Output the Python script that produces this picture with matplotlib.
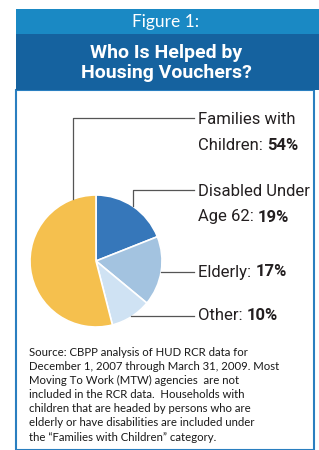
import numpy as np
import matplotlib.pyplot as plt
from matplotlib.patches import Rectangle

# pie data, clockwise from 12 o'clock
categories = ["Disabled Under\nAge 62: ", "Elderly: ", "Other: ", "Families with\nChildren: "]
shares = [19, 17, 10, 54]
colors = ["#3677ba", "#a3c3e0", "#cfe2f3", "#f5c04e"]

title_top = "Figure 1:"
title_main = "Who Is Helped by\nHousing Vouchers?"
source_lines = [
    "Source: CBPP analysis of HUD RCR data for",
    "December 1, 2007 through March 31, 2009. Most",
    "Moving To Work (MTW) agencies  are not",
    "included in the RCR data.  Households with",
    "children that are headed by persons who are",
    "elderly or have disabilities are included under",
    "the \u201cFamilies with Children\u201d category.",
]

W, H = 319, 450
fig = plt.figure(figsize=(W / 100, H / 100), dpi=100)
ax = fig.add_axes([0, 0, 1, 1])

narrow = ["Liberation Sans Narrow", "Roboto", "DejaVu Sans"]
plain = ["Lato", "Noto Sans", "DejaVu Sans"]

# frame: header bands + bordered white box
ax.add_patch(Rectangle((16, 0), 298, H - 90, facecolor="white", edgecolor="#2a7fc0", lw=1.5))
ax.add_patch(Rectangle((16, H - 90), 303, 56, facecolor="#15629f", lw=0))
ax.add_patch(Rectangle((16, H - 34), 303, 25, facecolor="#1a89c4", lw=0))

ax.text(166, H - 22, title_top, color="white", fontsize=12.5, ha="center", va="center", family=plain)
ax.text(166, H - 63, title_main, color="white", fontsize=14, fontweight="bold",
        ha="center", va="center", linespacing=1.2, family=narrow)

# pie
cx, cy, r = 96, H - 261, 66
wedges, _ = ax.pie(shares, colors=colors, startangle=90, counterclock=False,
                   center=(cx, cy), radius=r, frame=True,
                   wedgeprops=dict(edgecolor="white", linewidth=1.2))

# leader lines and labels
label_y = [204, 272, 316, 132]
line_y = [190, 272, 316, 118]
for i, w in enumerate(wedges):
    ang = np.deg2rad((w.theta1 + w.theta2) / 2)
    if i == 3:
        ang = np.deg2rad(110)
    px, py = cx + r * np.cos(ang), cy + r * np.sin(ang)
    ly = H - line_y[i]
    if abs(py - ly) > 3:
        ax.plot([px, px, 194], [py, ly, ly], color="#555555", lw=0.9)
    else:
        ax.plot([px, 194], [ly, ly], color="#555555", lw=0.9)
    name = categories[i]
    head, last = name.rsplit("\n", 1) if "\n" in name else ("", name)
    ty = H - label_y[i]
    if head:
        ax.text(198, ty + 13, head, fontsize=12, va="center", ha="left", family=narrow, color="#231f20")
        t = ax.text(198, ty - 13, last, fontsize=12, va="center", ha="left", family=narrow, color="#231f20")
    else:
        t = ax.text(198, ty, last, fontsize=12, va="center", ha="left", family=narrow, color="#231f20")
    ax.annotate(f"{shares[i]}%", xycoords=t, xy=(1, 0.5), va="center", ha="left",
                fontsize=12, fontweight="bold", family=narrow, color="#231f20")

# source note
for k, line in enumerate(source_lines):
    ax.text(29, H - 352 - 14.2 * k, line, fontsize=8.2, va="center", ha="left", family=plain, color="#1a1a1a")

ax.set_xlim(0, W)
ax.set_ylim(0, H)
ax.set_axis_off()
fig.savefig("out.png", dpi=100)
